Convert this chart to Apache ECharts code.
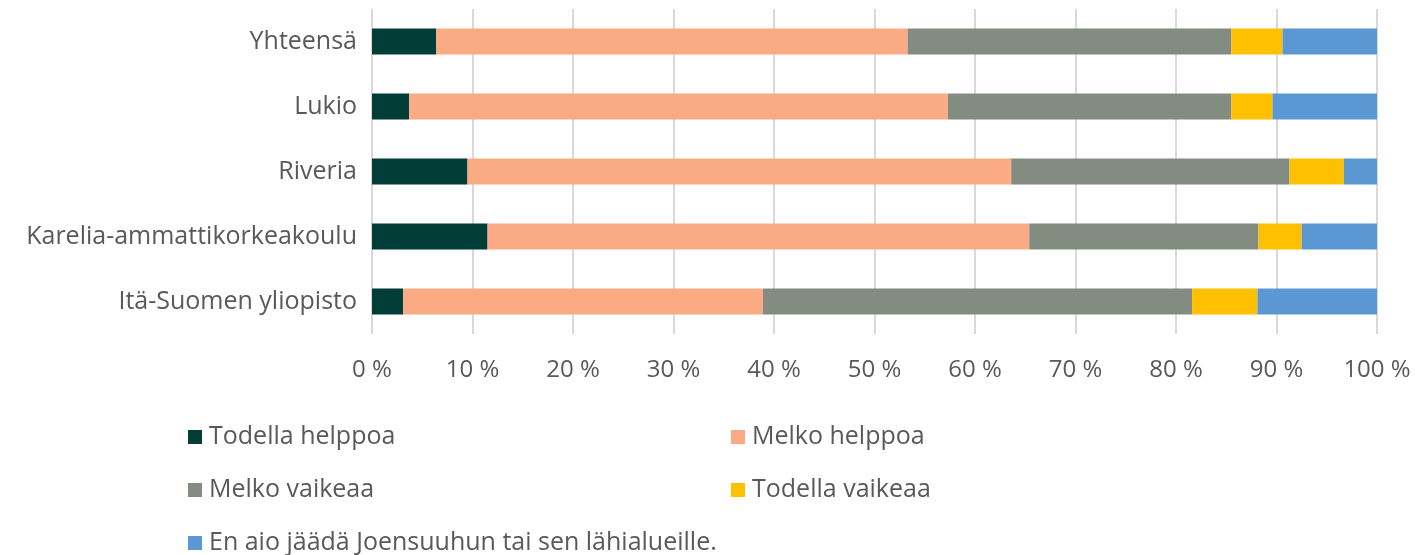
<!DOCTYPE html>
<html>
<head>
<meta charset="utf-8">
<script src="https://cdn.jsdelivr.net/npm/echarts@6/dist/echarts.min.js"></script>
<style>
  html, body { margin: 0; padding: 0; background: #fff; }
  #root { width: 1416px; height: 555px; }
</style>
</head>
<body>
<div id="root"></div>
<script>
// categories, top to bottom
const categories = ["Yhteensä", "Lukio", "Riveria", "Karelia-ammattikorkeakoulu", "Itä-Suomen yliopisto"];

// shares in percent, same order as categories
const todellaHelppoa = [6.4, 3.7, 9.5, 11.5, 3.1];
const melkoHelppoa = [46.9, 53.6, 54.1, 53.9, 35.8];
const melkoVaikeaa = [32.2, 28.2, 27.7, 22.8, 42.7];
const todellaVaikeaa = [5.1, 4.1, 5.4, 4.3, 6.5];
const enAio = [9.4, 10.4, 3.3, 7.5, 11.9];

const seriesNames = [
  "Todella helppoa",
  "Melko helppoa",
  "Melko vaikeaa",
  "Todella vaikeaa",
  "En aio jäädä Joensuuhun tai sen lähialueille."
];
const seriesData = [todellaHelppoa, melkoHelppoa, melkoVaikeaa, todellaVaikeaa, enAio];
const colors = ["#023d38", "#fbab84", "#838c80", "#fec000", "#5b97d3"];

const font = "'Open Sans', 'Noto Sans', sans-serif";
const textColor = "#595959";

// legend positions (left edge of icon, text centre y)
const legendPos = [[188, 437], [731, 437], [188, 490], [731, 490], [188, 543]];

const chart = echarts.init(document.getElementById("root"));

chart.setOption({
  animation: false,
  textStyle: { fontFamily: font },
  grid: { left: 372, right: 39, top: 9, bottom: 221, containLabel: false },
  xAxis: {
    type: "value",
    min: 0,
    max: 100,
    interval: 10,
    axisLine: { show: false },
    axisTick: { show: false },
    splitLine: { lineStyle: { color: "#d9d9d9", width: 2 } },
    axisLabel: {
      margin: 24,
      color: textColor,
      fontSize: 24,
      fontFamily: font,
      formatter: (v) => v + " %"
    }
  },
  yAxis: {
    type: "category",
    inverse: true,
    data: categories,
    axisLine: { show: false },
    axisTick: { show: false },
    axisLabel: { margin: 15, color: textColor, fontSize: 25, fontFamily: font }
  },
  legend: seriesNames.map((name, i) => ({
    data: [name],
    left: legendPos[i][0],
    top: legendPos[i][1] - 15,
    itemWidth: 14,
    itemHeight: 14,
    itemGap: 0,
    icon: "rect",
    padding: 0,
    textStyle: { color: textColor, fontSize: 25, fontFamily: font, lineHeight: 30, padding: [0, 0, 0, 2] }
  })),
  series: seriesNames.map((name, i) => ({
    name: name,
    type: "bar",
    stack: "total",
    barWidth: 26,
    itemStyle: { color: colors[i] },
    data: seriesData[i]
  }))
});
</script>
</body>
</html>
